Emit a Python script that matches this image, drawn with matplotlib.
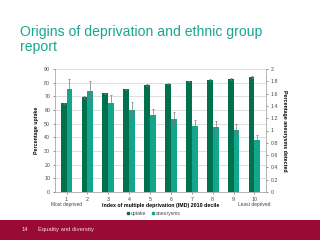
import matplotlib
matplotlib.use("Agg")
import matplotlib.pyplot as plt
import numpy as np
from matplotlib.patches import Rectangle

plt.rcParams['font.family'] = ['Liberation Sans', 'DejaVu Sans']

deciles = ['1', '2', '3', '4', '5', '6', '7', '8', '9', '10']
uptake = [64.8, 69.5, 72.2, 75.2, 78.2, 79.3, 80.9, 81.9, 82.6, 84.1]
uptake_err = [0.5, 0.5, 0.5, 0.5, 0.5, 0.5, 0.5, 0.5, 0.5, 0.5]
aneurysms = [1.68, 1.65, 1.44, 1.34, 1.25, 1.18, 1.08, 1.06, 1.01, 0.845]
aneurysms_err = [0.16, 0.15, 0.14, 0.12, 0.10, 0.12, 0.09, 0.10, 0.09, 0.08]
left_ticks = [0, 10, 20, 30, 40, 50, 60, 70, 80, 90]
right_ticks = [0, 0.2, 0.4, 0.6, 0.8, 1, 1.2, 1.4, 1.6, 1.8, 2]

c_up = '#00704f'
c_an = '#13a68c'
title_c = '#1aa68e'
band_c = '#9a0a35'

fig = plt.figure(figsize=(3.2, 2.4), dpi=100)
fig.patch.set_facecolor('white')

fig.text(0.0625, 0.895, 'Origins of deprivation and ethnic group\nreport',
         color=title_c, fontsize=10.1, ha='left', va='top', linespacing=1.05)

ax = fig.add_axes([0.172, 0.2, 0.659, 0.5125])
ax2 = ax.twinx()
x = np.arange(1, len(deciles) + 1)
w = 0.28
ax.bar(x - w / 2, uptake, width=w, color=c_up, yerr=uptake_err,
       error_kw=dict(ecolor='#777777', elinewidth=0.5, capsize=1, capthick=0.5), zorder=3)
ax2.bar(x + w / 2, aneurysms, width=w, color=c_an, yerr=aneurysms_err,
        error_kw=dict(ecolor='#777777', elinewidth=0.5, capsize=1, capthick=0.5), zorder=3)

ax.set_xlim(0.45, 10.55)
ax.set_ylim(0, 90)
ax2.set_ylim(0, 2)
ax.set_yticks(left_ticks)
ax2.set_yticks(right_ticks)
ax2.set_yticklabels([('%g' % t) for t in right_ticks])
ax.set_xticks(x)
ax.set_xticklabels(deciles)
ax.yaxis.grid(True, color='#d0d0d0', linewidth=0.5, zorder=0)
ax.set_axisbelow(True)
for a in (ax, ax2):
    a.tick_params(labelsize=3.8, colors='#444444', length=1.5, width=0.4, pad=2)
    for s in a.spines.values():
        s.set_visible(False)
ax.spines['bottom'].set_visible(True)
ax.spines['bottom'].set_color('#999999')
ax.spines['bottom'].set_linewidth(0.5)
ax.spines['left'].set_visible(True)
ax.spines['left'].set_color('#999999')
ax.spines['left'].set_linewidth(0.5)
ax2.spines['right'].set_visible(True)
ax2.spines['right'].set_color('#999999')
ax2.spines['right'].set_linewidth(0.5)

ax.set_ylabel('Percentage uptake', fontsize=3.8, fontweight='bold', labelpad=4)
ax2.set_ylabel('Percentage aneurysms detected', fontsize=3.8, fontweight='bold',
               rotation=270, va='bottom', labelpad=3)
ax.set_xlabel('Index of multiple deprivation (IMD) 2010 decile', fontsize=3.8,
              fontweight='bold', labelpad=1)
ax.text(1, -0.085, 'Most deprived', transform=ax.get_xaxis_transform(),
        fontsize=3.5, color='#444444', ha='center', va='top')
ax.text(10, -0.085, 'Least deprived', transform=ax.get_xaxis_transform(),
        fontsize=3.5, color='#444444', ha='center', va='top')

h1 = plt.Line2D([], [], marker='s', color=c_up, linestyle='none', markersize=2)
h2 = plt.Line2D([], [], marker='s', color=c_an, linestyle='none', markersize=2)
fig.legend([h1, h2], ['uptake', 'aneurysms'], loc='center', bbox_to_anchor=(0.48, 0.112),
           ncol=2, frameon=False, fontsize=3.6, handletextpad=0.1, columnspacing=1.0,
           handlelength=0.8, labelcolor='#444444')

fig.patches.append(Rectangle((0, 0), 1, 20 / 240, transform=fig.transFigure,
                             facecolor=band_c, edgecolor='none', zorder=0))
fig.text(0.066, 0.045, '14', color='#f2dbe2', fontsize=4.2, ha='left', va='center')
fig.text(0.12, 0.045, 'Equality and diversity', color='#f2dbe2', fontsize=4.2,
         ha='left', va='center')

fig.savefig('out.png', dpi=100)
